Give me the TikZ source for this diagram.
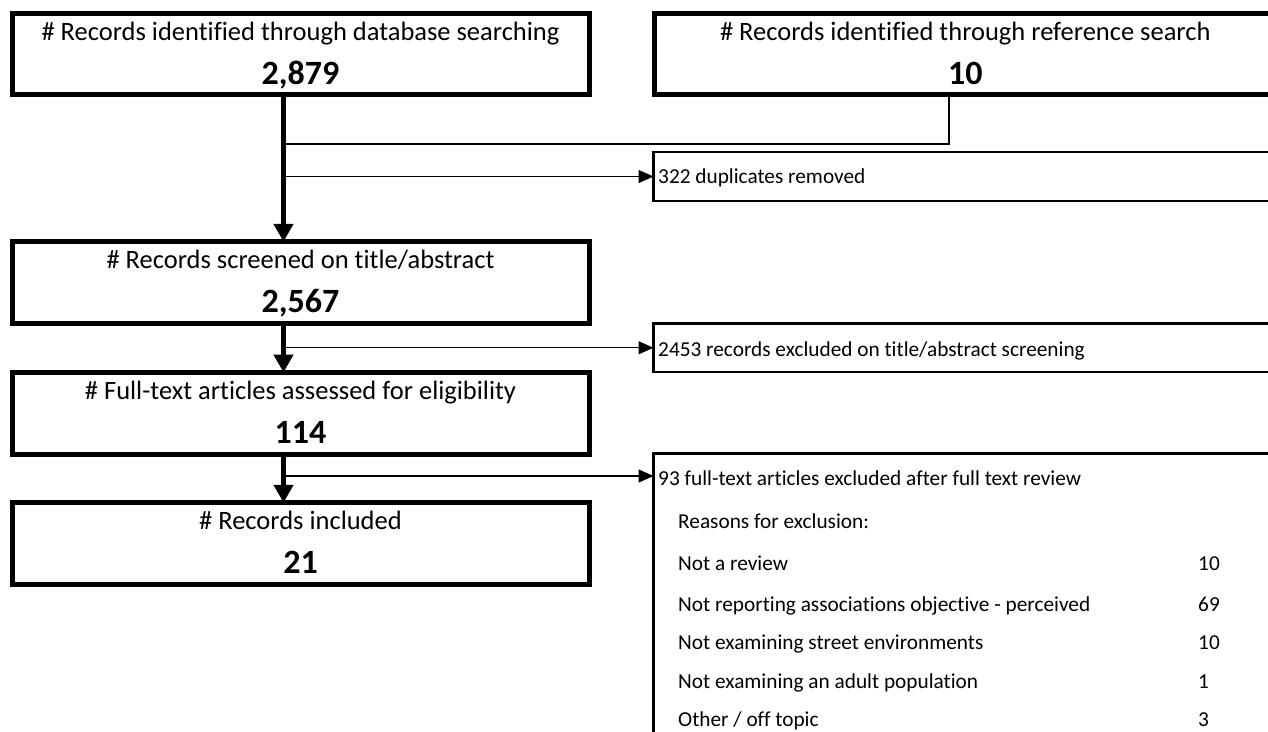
\documentclass[tikz,border=0pt]{standalone}
\usepackage{fontspec}
\setmainfont{Carlito}[Ligatures=NoCommon]
\usetikzlibrary{arrows.meta,calc}
\begin{document}
\begin{tikzpicture}[x=1pt,y=-1pt,
  stagebox/.style={draw, line width=5pt, minimum width=577pt, minimum height=81.5pt, inner sep=0pt, outer sep=0pt},
  sidebox/.style={draw, line width=2.5pt, minimum width=622.5pt, minimum height=49pt, inner sep=0pt, outer sep=0pt},
  ttl/.style={anchor=base, inner sep=0pt, font=\fontsize{26.5}{31}\selectfont},
  num/.style={anchor=base, inner sep=0pt, font=\bfseries\fontsize{34}{40}\selectfont},
  side/.style={anchor=base west, inner sep=0pt, font=\fontsize{21.3}{25}\selectfont},
  mainflow/.style={line width=5pt, -{Triangle[width=19pt,length=18pt]}},
  sideflow/.style={line width=1.2pt, -{Triangle[width=13pt,length=15pt]}},
  thinline/.style={line width=1.2pt}]
  \fill[white] (0,0) rectangle (1268,731);
  \clip (0,0) rectangle (1268,731);
  \useasboundingbox (0,0) rectangle (1268,731);

  % main column of stages
  \node[stagebox] (b1) at (300.5,53.75) {};
  \node[stagebox, minimum width=621.5pt] (b2) at (965.25,53.75) {};
  \node[stagebox] (s) at (300.5,282.5) {};
  \node[stagebox] (f) at (300.5,413.25) {};
  \node[stagebox] (inc) at (300.5,543.5) {};

  \node[ttl] (b1t) at ($(b1.north)+(0,27)$) {\# Records identified through database searching};
  \node[num] (b1n) at ($(b1.north)+(0,71)$) {2,879};
  \node[ttl] (b2t) at ($(b2.north)+(0,27)$) {\# Records identified through reference search};
  \node[num] (b2n) at ($(b2.north)+(0,71)$) {10};
  \node[ttl] (st) at ($(s.north)+(0,27)$) {\# Records screened on title/abstract};
  \node[num] (sn) at ($(s.north)+(0,71)$) {2,567};
  \node[ttl] (ft) at ($(f.north)+(0,27)$) {\# Full-text articles assessed for eligibility};
  \node[num] (fn) at ($(f.north)+(0,71)$) {114};
  \node[ttl] (it) at ($(inc.north)+(0,27)$) {\# Records included};
  \node[num] (in) at ($(inc.north)+(0,71)$) {21};

  % exclusion boxes on the right
  \node[sidebox] (b3) at (964.75,176.5) {};
  \node[sidebox, minimum height=48.5pt] (b4) at (964.75,347.75) {};
  \node[sidebox, minimum height=291.5pt] (b5) at (964.75,599.25) {};

  \node[side] (b3t) at ($(b3.north west)+(4.5,31)$) {322 duplicates removed};
  \node[side] (b4t) at ($(b4.north west)+(4.5,32.5)$) {2453 records excluded on title/abstract screening};
  \node[side] (b5t) at ($(b5.north west)+(4.5,31.5)$) {93 full-text articles excluded after full text review};
  \node[side] (r0) at ($(b5.north west)+(24.5,74.5)$) {Reasons for exclusion:};
  \node[side] (r1) at ($(b5.north west)+(24.5,116.5)$) {Not a review};
  \node[side] (r2) at ($(b5.north west)+(24.5,157.5)$) {Not reporting associations objective - perceived};
  \node[side] (r3) at ($(b5.north west)+(24.5,195.5)$) {Not examining street environments};
  \node[side] (r4) at ($(b5.north west)+(24.5,234.5)$) {Not examining an adult population};
  \node[side] (r5) at ($(b5.north west)+(24.5,272.5)$) {Other / off topic};
  \node[side] (n1) at ($(b5.north west)+(544.5,116.5)$) {10};
  \node[side] (n2) at ($(b5.north west)+(544.5,157.5)$) {69};
  \node[side] (n3) at ($(b5.north west)+(544.5,195.5)$) {10};
  \node[side] (n4) at ($(b5.north west)+(544.5,234.5)$) {1};
  \node[side] (n5) at ($(b5.north west)+(544.5,272.5)$) {3};

  % connectors
  \coordinate (sp) at (283.5,0);
  \coordinate (jn) at (949,144);
  \coordinate (a5) at ($(b5.north west)+(0,22.5)$);

  \draw[mainflow] (b1.south -| sp) -- (s.north -| sp);
  \draw[mainflow] (s.south -| sp) -- (f.north -| sp);
  \draw[mainflow] (f.south -| sp) -- (inc.north -| sp);

  \draw[thinline] (b2.south -| jn) -- (jn) -- (jn -| sp);
  \draw[sideflow] (sp |- b3.west) -- (b3.west);
  \draw[sideflow] (sp |- b4.west) -- (b4.west);
  \draw[sideflow] (sp |- a5) -- (a5);
\end{tikzpicture}
\end{document}
